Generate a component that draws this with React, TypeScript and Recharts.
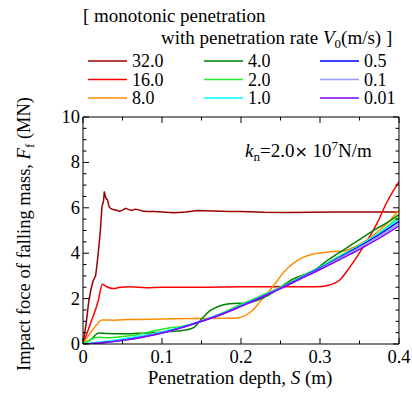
import React from 'react';
import { LineChart, Line, XAxis, YAxis } from 'recharts';

// ---- tick values ----
const xTicks = [0, 0.05, 0.1, 0.15, 0.2, 0.25, 0.3, 0.35, 0.4];
const yTicks = [0, 0.5, 1, 1.5, 2, 2.5, 3, 3.5, 4, 4.5, 5, 5.5, 6, 6.5, 7, 7.5, 8, 8.5, 9, 9.5, 10];

// ---- series: [S (m), Ff (MN)] ----
const v32: number[][] = [
  [0, 0], [0.004, 0.9], [0.007, 1.8], [0.01, 2.4], [0.013, 2.8], [0.016, 3.0], [0.019, 3.9],
  [0.022, 5.0], [0.024, 6.05], [0.026, 6.3], [0.027, 6.72], [0.028, 6.55], [0.029, 6.42],
  [0.031, 6.35], [0.033, 6.05], [0.035, 5.97], [0.038, 5.92], [0.042, 5.9], [0.046, 5.84],
  [0.05, 5.9], [0.054, 5.98], [0.058, 5.92], [0.062, 5.88], [0.066, 5.94], [0.07, 5.92],
  [0.075, 5.86], [0.081, 5.84], [0.09, 5.84], [0.1, 5.82], [0.115, 5.78], [0.13, 5.82],
  [0.145, 5.88], [0.165, 5.86], [0.185, 5.84], [0.2, 5.84], [0.23, 5.8], [0.26, 5.79],
  [0.29, 5.8], [0.32, 5.82], [0.36, 5.82], [0.4, 5.82],
];
const v16: number[][] = [
  [0, 0], [0.005, 0.47], [0.011, 1.06], [0.015, 1.42], [0.0195, 1.94], [0.0245, 2.63],
  [0.03, 2.52], [0.038, 2.44], [0.047, 2.5], [0.06, 2.52], [0.08, 2.48], [0.1, 2.5],
  [0.15, 2.5], [0.2, 2.52], [0.25, 2.52], [0.295, 2.52], [0.31, 2.58], [0.325, 2.82],
  [0.338, 3.4], [0.355, 4.29], [0.372, 5.3], [0.384, 6.2], [0.4, 7.15],
];
const v8: number[][] = [
  [0, 0], [0.009, 0.47], [0.017, 0.84], [0.024, 1.06], [0.04, 1.05], [0.06, 1.08],
  [0.1, 1.1], [0.14, 1.12], [0.18, 1.13], [0.195, 1.15], [0.205, 1.25], [0.215, 1.5],
  [0.225, 1.9], [0.235, 2.3], [0.245, 2.75], [0.255, 3.2], [0.27, 3.65], [0.29, 3.95],
  [0.31, 4.05], [0.33, 4.1], [0.345, 4.3], [0.36, 4.6], [0.375, 5.0], [0.39, 5.5], [0.4, 5.9],
];
const v4: number[][] = [
  [0, 0], [0.01, 0.2], [0.02, 0.48], [0.03, 0.46], [0.05, 0.45], [0.07, 0.47], [0.09, 0.5],
  [0.11, 0.55], [0.13, 0.62], [0.14, 0.72], [0.15, 1.1], [0.16, 1.45], [0.175, 1.7],
  [0.19, 1.78], [0.205, 1.8], [0.22, 1.92], [0.235, 2.15], [0.25, 2.5], [0.265, 2.85],
  [0.28, 3.05], [0.295, 3.3], [0.31, 3.7], [0.33, 4.15], [0.35, 4.6], [0.37, 5.05],
  [0.385, 5.35], [0.4, 5.7],
];
const v2: number[][] = [
  [0, 0], [0.01, 0.2], [0.02, 0.3], [0.03, 0.28], [0.05, 0.33], [0.07, 0.42], [0.09, 0.58],
  [0.11, 0.72], [0.13, 0.8], [0.15, 1.0], [0.175, 1.35], [0.2, 1.75], [0.225, 2.12],
  [0.25, 2.5], [0.275, 2.95], [0.3, 3.4], [0.325, 3.88], [0.35, 4.35], [0.375, 4.9], [0.4, 5.6],
];
const v1: number[][] = [
  [0, 0], [0.025, 0.1], [0.05, 0.22], [0.075, 0.36], [0.1, 0.53], [0.125, 0.76], [0.15, 1.02],
  [0.175, 1.33], [0.2, 1.7], [0.225, 2.08], [0.25, 2.48], [0.275, 2.92], [0.3, 3.38],
  [0.325, 3.85], [0.35, 4.34], [0.375, 4.88], [0.4, 5.5],
];
const v05: number[][] = [
  [0, 0], [0.025, 0.07], [0.05, 0.17], [0.075, 0.31], [0.1, 0.49], [0.125, 0.73], [0.15, 1.0],
  [0.175, 1.31], [0.2, 1.68], [0.225, 2.06], [0.25, 2.46], [0.275, 2.9], [0.3, 3.35],
  [0.325, 3.82], [0.35, 4.3], [0.375, 4.82], [0.4, 5.4],
];
const v01: number[][] = [
  [0, 0], [0.025, 0.06], [0.05, 0.16], [0.075, 0.3], [0.1, 0.48], [0.125, 0.72], [0.15, 1.0],
  [0.175, 1.3], [0.2, 1.67], [0.225, 2.05], [0.25, 2.45], [0.275, 2.88], [0.3, 3.32],
  [0.325, 3.78], [0.35, 4.25], [0.375, 4.75], [0.4, 5.3],
];
const v001: number[][] = [
  [0, 0], [0.025, 0.06], [0.05, 0.16], [0.075, 0.3], [0.1, 0.48], [0.125, 0.72], [0.15, 1.0],
  [0.175, 1.3], [0.2, 1.66], [0.225, 2.04], [0.25, 2.44], [0.275, 2.86], [0.3, 3.28],
  [0.325, 3.72], [0.35, 4.17], [0.375, 4.66], [0.4, 5.2],
];

const rateLabels = ['32.0', '16.0', '8.0', '4.0', '2.0', '1.0', '0.5', '0.1', '0.01'];
const rateColors = ['#990000', '#ff0000', '#ff8c00', '#008000', '#22ee22', '#00ffff', '#0000ff', '#9999ff', '#7f00ff'];
const rateData = [v32, v16, v8, v4, v2, v1, v05, v01, v001];

const FONT = 'Liberation Serif, Times New Roman, DejaVu Serif, serif';
const TXT: React.CSSProperties = { fontFamily: FONT };

const toRows = (d: number[][]) => d.map(([s, f]) => ({ s, f }));

const isMajorX = (v: number) => Math.abs(v * 10 - Math.round(v * 10)) < 1e-6;
const isMajorY = (v: number) => Math.abs(v / 2 - Math.round(v / 2)) < 1e-6;

const BottomTick = (props: any) => {
  const { x, y, payload } = props;
  const v = payload.value;
  const major = isMajorX(v);
  return (
    <g>
      <line x1={x} x2={x} y1={y} y2={y - (major ? 6 : 3.5)} stroke="#000" strokeWidth={1} />
      {major && (
        <text x={x} y={y + 19} textAnchor="middle" fontSize={18.5} style={TXT} fill="#000">
          {v === 0 ? '0' : v.toFixed(1)}
        </text>
      )}
    </g>
  );
};
const TopTick = (props: any) => {
  const { x, y, payload } = props;
  const major = isMajorX(payload.value);
  return <line x1={x} x2={x} y1={y} y2={y + (major ? 6 : 3.5)} stroke="#000" strokeWidth={1} />;
};
const LeftTick = (props: any) => {
  const { x, y, payload } = props;
  const v = payload.value;
  const major = isMajorY(v);
  return (
    <g>
      <line x1={x} x2={x + (major ? 6 : 3.5)} y1={y} y2={y} stroke="#000" strokeWidth={1} />
      {major && (
        <text x={x - 3} y={y + 6} textAnchor="end" fontSize={18.5} style={TXT} fill="#000">
          {String(v)}
        </text>
      )}
    </g>
  );
};
const RightTick = (props: any) => {
  const { x, y, payload } = props;
  const major = isMajorY(payload.value);
  return <line x1={x} x2={x - (major ? 6 : 3.5)} y1={y} y2={y} stroke="#000" strokeWidth={1} />;
};

const legendCols = [88, 204, 320];
const legendRows = [61, 79.5, 98];

export default function App() {
  return (
    <div style={{ position: 'absolute', left: 0, top: 0, width: 412, height: 394, background: '#fff', fontFamily: FONT }}>
      <LineChart width={412} height={394} margin={{ top: 116, right: 0, bottom: 0, left: 0 }}>
        <XAxis
          xAxisId="b"
          type="number"
          dataKey="s"
          domain={[0, 0.4]}
          ticks={xTicks}
          height={50}
          tickSize={0}
          tickMargin={0}
          tickLine={false}
          axisLine={{ stroke: '#000', strokeWidth: 1 }}
          tick={<BottomTick />}
          interval={0}
          allowDataOverflow
        />
        <XAxis
          xAxisId="t"
          orientation="top"
          type="number"
          dataKey="s"
          domain={[0, 0.4]}
          ticks={xTicks}
          height={1}
          tickSize={0}
          tickMargin={0}
          tickLine={false}
          axisLine={{ stroke: '#000', strokeWidth: 1 }}
          tick={<TopTick />}
          interval={0}
          allowDataOverflow
        />
        <YAxis
          yAxisId="l"
          type="number"
          domain={[0, 10]}
          ticks={yTicks}
          width={83}
          tickSize={0}
          tickMargin={0}
          tickLine={false}
          axisLine={{ stroke: '#000', strokeWidth: 1 }}
          tick={<LeftTick />}
          interval={0}
          allowDataOverflow
        />
        <YAxis
          yAxisId="r"
          orientation="right"
          type="number"
          domain={[0, 10]}
          ticks={yTicks}
          width={13}
          tickSize={0}
          tickMargin={0}
          tickLine={false}
          axisLine={{ stroke: '#000', strokeWidth: 1 }}
          tick={<RightTick />}
          interval={0}
          allowDataOverflow
        />
        {rateData.map((d, i) => (
          <Line
            key={rateLabels[i]}
            xAxisId="b"
            yAxisId="l"
            data={toRows(d)}
            dataKey="f"
            type={i === 0 ? 'linear' : 'monotone'}
            stroke={rateColors[i]}
            strokeWidth={1.5}
            dot={false}
            activeDot={false}
            isAnimationActive={false}
          />
        ))}
      </LineChart>
      <svg
        width={412}
        height={394}
        style={{ position: 'absolute', left: 0, top: 0, pointerEvents: 'none', fontFamily: FONT }}
      >
        <text x={83} y={21.5} fontSize={19} fill="#000" style={TXT}>[ monotonic penetration</text>
        <text x={161} y={43.5} fontSize={19} fill="#000" style={TXT}>
          with penetration rate{'  '}
          <tspan fontStyle="italic">V</tspan>
          <tspan fontSize={13} dy={4}>0</tspan>
          <tspan dy={-4}>(m/s) ]</tspan>
        </text>
        {rateLabels.map((lab, i) => {
          const col = Math.floor(i / 3);
          const row = i % 3;
          const lx = legendCols[col];
          const ly = legendRows[row];
          return (
            <g key={lab}>
              <line x1={lx} x2={lx + 39} y1={ly} y2={ly} stroke={rateColors[i]} strokeWidth={1.5} />
              <text x={lx + 44} y={ly + 6} fontSize={18} fill="#000" style={TXT}>{lab}</text>
            </g>
          );
        })}
        <text x={245} y={157} fontSize={19} fill="#000" style={TXT}>
          <tspan fontStyle="italic">k</tspan>
          <tspan fontSize={13} dy={4}>n</tspan>
          <tspan dy={-4}>=2.0</tspan>
          <tspan style={{ fontFamily: 'DejaVu Sans' }} fontSize={16}>×</tspan>
          <tspan> 10</tspan>
          <tspan fontSize={13} dy={-7}>7</tspan>
          <tspan dy={7}>N/m</tspan>
        </text>
        <text x={240} y={384} textAnchor="middle" fontSize={19} fill="#000" style={TXT}>
          Penetration depth, <tspan fontStyle="italic">S</tspan> (m)
        </text>
        <text transform="translate(30,234) rotate(-90)" textAnchor="middle" fontSize={18.5} fill="#000" style={TXT}>
          Impact foce of falling mass, <tspan fontStyle="italic">F</tspan>
          <tspan fontSize={13} dy={4}>f</tspan>
          <tspan dy={-4}> (MN)</tspan>
        </text>
      </svg>
    </div>
  );
}
